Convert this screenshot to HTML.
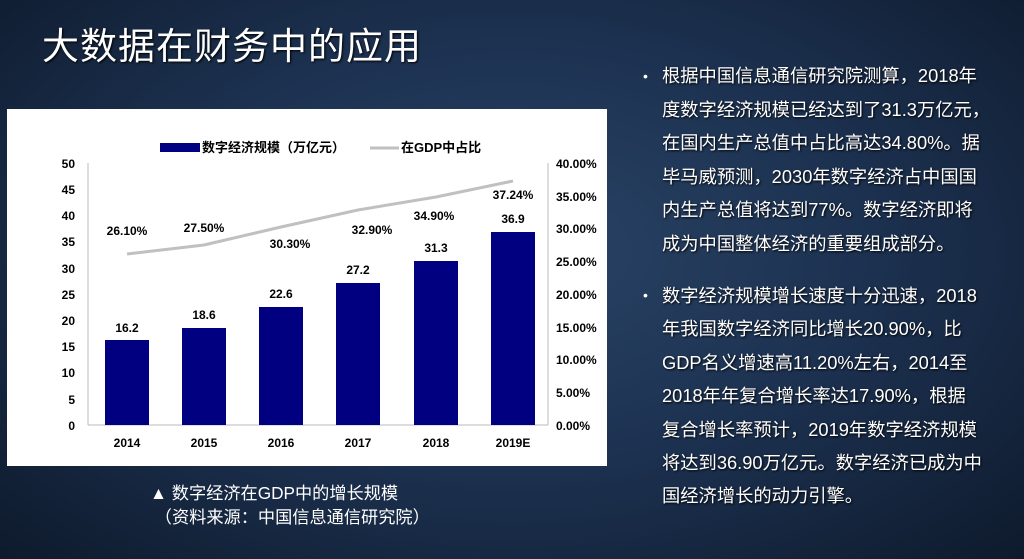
<!DOCTYPE html>
<html><head><meta charset="utf-8"><style>
body{margin:0;width:1024px;height:559px;overflow:hidden;background:radial-gradient(ellipse at 50% 45%,#2a4466 0%,#1c3150 50%,#0e1a2c 100%);font-family:"Liberation Sans","Noto Sans CJK SC",sans-serif;position:relative;color:#fff}
.t{position:absolute;left:42px;top:16px;font-size:37px;letter-spacing:1px;text-shadow:1px 1px 2px #000}
.p{position:absolute;left:662px;font-size:18.3px;line-height:33.6px;white-space:nowrap;text-shadow:1px 1px 2px #000}
.b{position:absolute;left:643px;font-size:14px}
.cap{position:absolute;left:150px;top:481px;font-size:17.2px;line-height:24px}
</style></head><body>
<div class="t">大数据在财务中的应用</div>
<div class="b" style="top:68px">•</div>
<div class="p" style="top:59px">根据中国信息通信研究院测算，2018年<br>度数字经济规模已经达到了31.3万亿元，<br>在国内生产总值中占比高达34.80%。据<br>毕马威预测，2030年数字经济占中国国<br>内生产总值将达到77%。数字经济即将<br>成为中国整体经济的重要组成部分。</div>
<div class="b" style="top:287px">•</div>
<div class="p" style="top:279px;line-height:33.4px">数字经济规模增长速度十分迅速，2018<br>年我国数字经济同比增长20.90%，比<br>GDP名义增速高11.20%左右，2014至<br>2018年年复合增长率达17.90%，根据<br>复合增长率预计，2019年数字经济规模<br>将达到36.90万亿元。数字经济已成为中<br>国经济增长的动力引擎。</div>
<div class="cap">▲ 数字经济在GDP中的增长规模<br>&nbsp;（资料来源：中国信息通信研究院）</div>
<svg style="position:absolute;left:0;top:0" width="1024" height="559" font-family="Liberation Sans,Noto Sans CJK SC,sans-serif" font-weight="bold" font-size="12">
<rect x="7" y="109" width="600" height="357" fill="#fff"/>
<rect x="160" y="143" width="40" height="9" fill="#000080"/>
<text x="202" y="152" font-size="13">数字经济规模（万亿元）</text>
<line x1="370" y1="148" x2="399" y2="148" stroke="#c0c0c0" stroke-width="3"/>
<text x="401" y="152" font-size="13">在GDP中占比</text>
<line x1="88" y1="425" x2="548" y2="425" stroke="#bbb"/>
<line x1="88" y1="163" x2="88" y2="425" stroke="#bbb"/>
<line x1="548" y1="163" x2="548" y2="425" stroke="#bbb"/>
<g text-anchor="end">
<text x="75" y="168">50</text><text x="75" y="194">45</text><text x="75" y="220">40</text><text x="75" y="246">35</text><text x="75" y="273">30</text><text x="75" y="299">25</text><text x="75" y="325">20</text><text x="75" y="351">15</text><text x="75" y="377">10</text><text x="75" y="404">5</text><text x="75" y="430">0</text>
</g>
<g>
<text x="556" y="168">40.00%</text><text x="556" y="201">35.00%</text><text x="556" y="233">30.00%</text><text x="556" y="266">25.00%</text><text x="556" y="299">20.00%</text><text x="556" y="332">15.00%</text><text x="556" y="364">10.00%</text><text x="556" y="397">5.00%</text><text x="556" y="430">0.00%</text>
</g>
<g fill="#000080">
<rect x="105" y="340" width="44" height="85"/><rect x="182" y="328" width="44" height="97"/><rect x="259" y="307" width="44" height="118"/><rect x="336" y="283" width="44" height="142"/><rect x="414" y="261" width="44" height="164"/><rect x="491" y="232" width="44" height="193"/>
</g>
<polyline points="127,254 204,245 281,227 358,210 436,197 513,181" fill="none" stroke="#c0c0c0" stroke-width="3"/>
<g text-anchor="middle">
<text x="127" y="332">16.2</text><text x="204" y="319">18.6</text><text x="281" y="298">22.6</text><text x="358" y="274">27.2</text><text x="436" y="252">31.3</text><text x="513" y="223">36.9</text>
<text x="127" y="235">26.10%</text><text x="204" y="232">27.50%</text><text x="290" y="248">30.30%</text><text x="372" y="234">32.90%</text><text x="434" y="220">34.90%</text><text x="513" y="199">37.24%</text>
<text x="127" y="447">2014</text><text x="204" y="447">2015</text><text x="281" y="447">2016</text><text x="358" y="447">2017</text><text x="436" y="447">2018</text><text x="513" y="447">2019E</text>
</g>
</svg>
</body></html>
